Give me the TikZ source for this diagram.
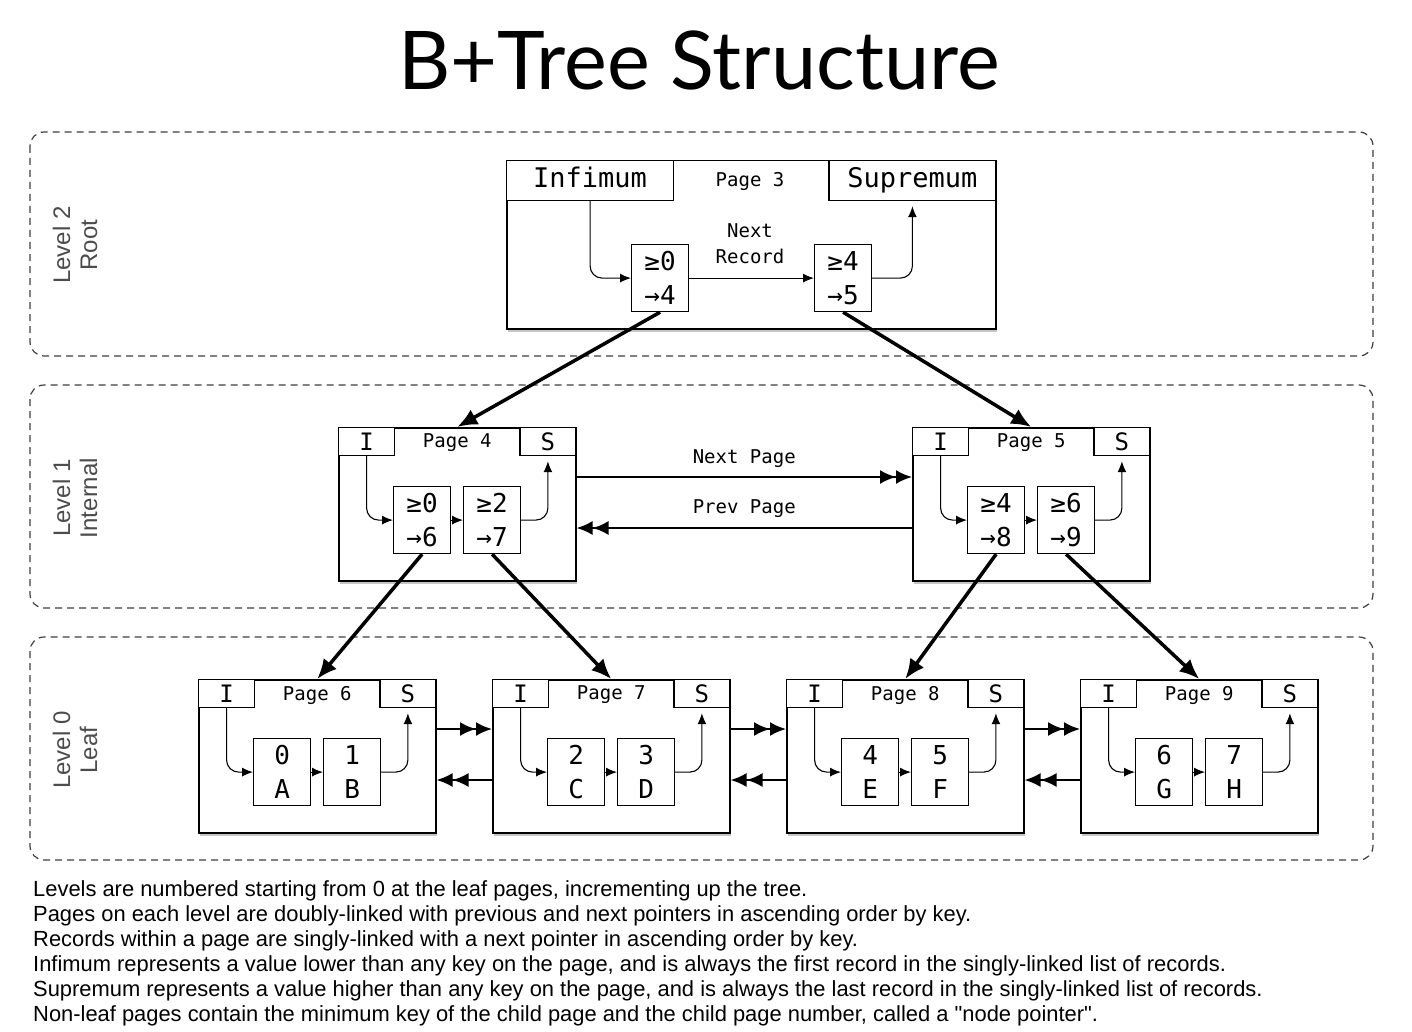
\documentclass[tikz,border=0pt]{standalone}
\usepackage{fontspec}
\setmainfont{Liberation Sans}
\newfontfamily\monof{DejaVu Sans Mono}
\newfontfamily\titlef{Lato}
\usetikzlibrary{arrows.meta,shadows,calc}

\newcommand\smallpage[6]{%
  \node[pagebox, minimum width=237pt, minimum height=153pt, anchor=north west] (#1) at (#2,#3) {};
  \node[hdrs, minimum width=56pt, minimum height=28pt, anchor=north west] (#1i) at (#1.north west) {I};
  \node[hdrs, minimum width=56pt, minimum height=28pt, anchor=north east] (#1s) at (#1.north east) {S};
  \node[pagelbl] (#1t) at ([yshift=-16pt]#1.north) {#4};
  \node[rec, anchor=north west] (#1a) at ([xshift=55pt,yshift=-59pt]#1.north west) {#5};
  \node[rec, anchor=north west] (#1b) at ([xshift=125pt,yshift=-59pt]#1.north west) {#6};
  \draw[link] (#1i.south) |- (#1a.west);
  \draw[link] (#1a.east) -- (#1b.west);
  \draw[link] (#1b.east) -| ([yshift=-5pt]#1s.south);
}

\begin{document}
\begin{tikzpicture}[x=1pt,y=-1pt,
 pagebox/.style={draw, line width=1.5pt, fill=white, drop shadow={opacity=0.45, shadow xshift=1.5pt, shadow yshift=-3pt}, inner sep=0},
 hdr/.style={draw, line width=1.2pt, fill=white, inner sep=0, text height=18pt, text depth=5pt, font=\monof\fontsize{26}{26}\selectfont},
 hdrs/.style={draw, line width=1.2pt, fill=white, inner sep=0, text height=17pt, text depth=0pt, font=\monof\fontsize{24}{24}\selectfont},
 pagelbl/.style={font=\monof\fontsize{19}{19}\selectfont, inner sep=0},
 rec/.style={draw, line width=1.2pt, fill=white, minimum width=57pt, minimum height=67pt, inner sep=0, align=center, font=\monof\fontsize{26}{34}\selectfont},
 link/.style={line width=1.1pt, rounded corners=12pt, -{Latex[length=11pt,width=9pt]}},
 child/.style={line width=3.5pt, -{Latex[length=20pt,width=17pt]}},
 sib/.style={line width=2.2pt, -{Latex[length=16pt,width=14pt]Latex[length=16pt,width=14pt]}},
 region/.style={draw=black!75, line width=1.2pt, dash pattern=on 7pt off 5pt, rounded corners=14pt},
 lvl/.style={rotate=90, align=center, text=black!70, font=\fontsize{24}{27}\selectfont},
 note/.style={align=left, anchor=north west, inner sep=0, font=\fontsize{21.9}{25}\selectfont}
]
\fill[white] (0,0) rectangle (1412,1032);
\useasboundingbox (0,0) rectangle (1412,1032);

% title
\node[font=\titlef\fontsize{81}{81}\selectfont, anchor=base, inner sep=0] (title) at (699,90) {B+Tree Structure};

% level regions
\draw[region] (30,132) rectangle (1373,356);
\draw[region] (30,385) rectangle (1373,608);
\draw[region] (30,637) rectangle (1373,860);
\node[lvl] (l2) at (75,245) {Level 2\\Root};
\node[lvl] (l1) at (75,498) {Level 1\\Internal};
\node[lvl] (l0) at (75,750) {Level 0\\Leaf};

% root page
\node[pagebox, minimum width=489pt, minimum height=168pt, anchor=north west] (p3) at (506,160) {};
\node[hdr, minimum width=167pt, minimum height=40pt, anchor=north west, font=\monof\fontsize{27}{27}\selectfont] (p3i) at (p3.north west) {Infimum};
\node[hdr, minimum width=167pt, minimum height=40pt, anchor=north east, font=\monof\fontsize{27}{27}\selectfont] (p3s) at (p3.north east) {Supremum};
\node[pagelbl] (p3t) at (750,181) {Page 3};
\node[rec, anchor=north west] (p3a) at (631,244) {≥0\\→4};
\node[rec, anchor=north west] (p3b) at (814,244) {≥4\\→5};
\node[pagelbl, align=center, font=\monof\fontsize{19}{26}\selectfont] (nr) at (750,244) {Next\\Record};
\draw[link] (p3i.south) |- (p3a.west);
\draw[link] (p3a.east) -- (p3b.west);
\draw[link] (p3b.east) -| ([yshift=-5pt]p3s.south);

% internal pages
\smallpage{p4}{338}{427}{Page 4}{≥0\\→6}{≥2\\→7}
\smallpage{p5}{912}{427}{Page 5}{≥4\\→8}{≥6\\→9}

% leaf pages
\smallpage{p6}{198}{679}{Page 6}{0\\A}{1\\B}
\smallpage{p7}{492}{679}{Page 7}{2\\C}{3\\D}
\smallpage{p8}{786}{679}{Page 8}{4\\E}{5\\F}
\smallpage{p9}{1080}{679}{Page 9}{6\\G}{7\\H}

% sibling links
\draw[sib] ([yshift=-50pt]p4.north east) -- ([yshift=-50pt]p5.north west) node[midway, above=8pt, pagelbl] {Next Page};
\draw[sib] ([yshift=-101pt]p5.north west) -- ([yshift=-101pt]p4.north east) node[midway, above=9pt, pagelbl] {Prev Page};
\foreach \a/\b in {p6/p7,p7/p8,p8/p9}{
  \draw[sib] ([yshift=-50pt]\a.north east) -- ([yshift=-50pt]\b.north west);
  \draw[sib] ([yshift=-101pt]\b.north west) -- ([yshift=-101pt]\a.north east);
}

% child pointers
\draw[child] (p3a.south) -- (p4.north);
\draw[child] (p3b.south) -- (p5.north);
\draw[child] (p4a.south) -- (p6.north);
\draw[child] (p4b.south) -- (p7.north);
\draw[child] (p5a.south) -- (p8.north);
\draw[child] (p5b.south) -- (p9.north);

% notes
\node[note] (notes) at (33,880) {Levels are numbered starting from 0 at the leaf pages, incrementing up the tree.\\
Pages on each level are doubly-linked with previous and next pointers in ascending order by key.\\
Records within a page are singly-linked with a next pointer in ascending order by key.\\
Infimum represents a value lower than any key on the page, and is always the first record in the singly-linked list of records.\\
Supremum represents a value higher than any key on the page, and is always the last record in the singly-linked list of records.\\
Non-leaf pages contain the minimum key of the child page and the child page number, called a \textquotedbl node pointer\textquotedbl.};
\end{tikzpicture}
\end{document}
